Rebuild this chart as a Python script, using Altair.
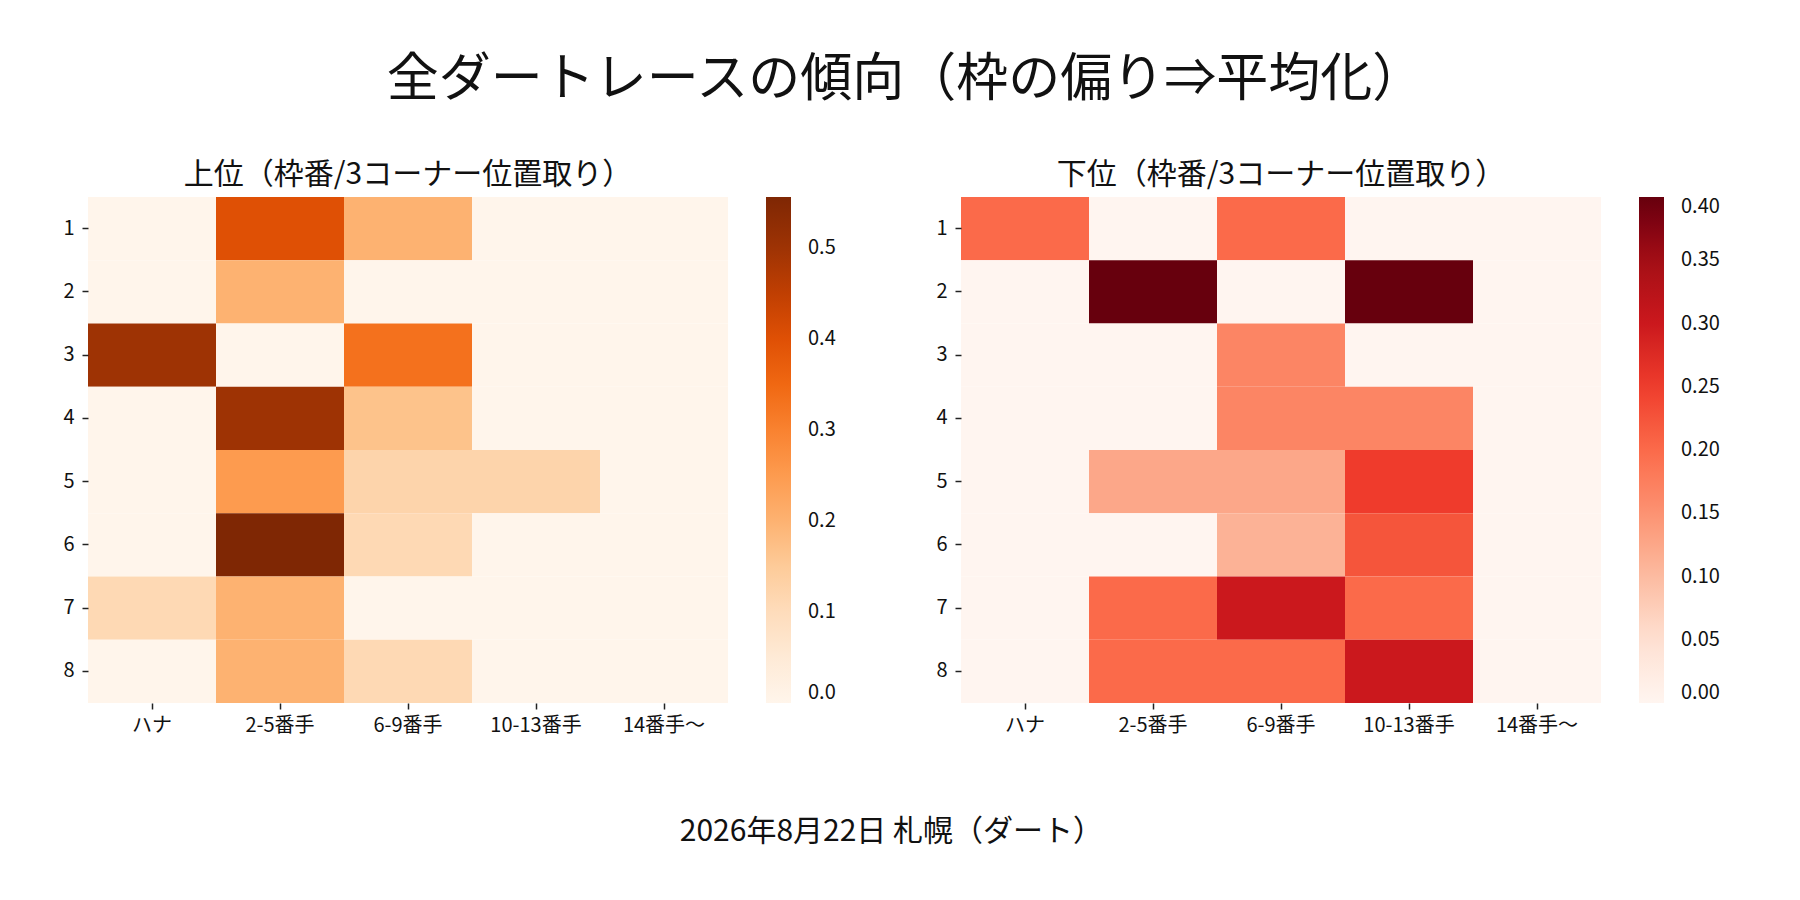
import altair as alt
import pandas as pd

FONT = "Noto Sans CJK JP"

positions = ["ハナ", "2-5番手", "6-9番手", "10-13番手", "14番手～"]
gates = ["1", "2", "3", "4", "5", "6", "7", "8"]

# 上位 (top finishers) share by gate x position
upper_rows = [
    [0.0, 0.40, 0.20, 0.0, 0.0],
    [0.0, 0.20, 0.0, 0.0, 0.0],
    [0.50, 0.0, 0.333, 0.0, 0.0],
    [0.0, 0.50, 0.167, 0.0, 0.0],
    [0.0, 0.25, 0.125, 0.125, 0.0],
    [0.0, 0.556, 0.111, 0.0, 0.0],
    [0.111, 0.20, 0.0, 0.0, 0.0],
    [0.0, 0.20, 0.111, 0.0, 0.0],
]
# 下位 (bottom finishers)
lower_rows = [
    [0.20, 0.0, 0.20, 0.0, 0.0],
    [0.0, 0.40, 0.0, 0.40, 0.0],
    [0.0, 0.0, 0.167, 0.0, 0.0],
    [0.0, 0.0, 0.167, 0.167, 0.0],
    [0.0, 0.125, 0.125, 0.25, 0.0],
    [0.0, 0.0, 0.111, 0.225, 0.0],
    [0.0, 0.20, 0.30, 0.20, 0.0],
    [0.0, 0.20, 0.20, 0.30, 0.0],
]

oranges = ["#fff5eb", "#fee6ce", "#fdd0a2", "#fdae6b", "#fd8d3c",
           "#f16913", "#d94801", "#a63603", "#7f2704"]
reds = ["#fff5f0", "#fee0d2", "#fcbba1", "#fc9272", "#fb6a4a",
        "#ef3b2c", "#cb181d", "#a50f15", "#67000d"]

upper_ticks = [0.0, 0.1, 0.2, 0.3, 0.4, 0.5]
lower_ticks = [0.0, 0.05, 0.10, 0.15, 0.20, 0.25, 0.30, 0.35, 0.40]

title_main = "全ダートレースの傾向（枠の偏り⇒平均化）"
title_upper = "上位（枠番/3コーナー位置取り）"
title_lower = "下位（枠番/3コーナー位置取り）"
caption = "2026年8月22日 札幌（ダート）"


def to_df(rows):
    recs = []
    for g, row in zip(gates, rows):
        for p, v in zip(positions, row):
            recs.append({"gate": g, "pos": p, "value": v})
    return pd.DataFrame(recs)


def heat(rows, colors, ticks, fmt, title, vmax):
    n = len(colors) - 1
    domain = [vmax * i / n for i in range(n + 1)]
    return alt.Chart(to_df(rows)).mark_rect().encode(
        x=alt.X("pos:N", sort=positions, title=None,
                axis=alt.Axis(labelAngle=0, domain=False, tickSize=6,
                              tickWidth=1.5, tickColor="#222",
                              labelPadding=6, labelFontSize=20,
                              labelFont=FONT, labelColor="#111")),
        y=alt.Y("gate:N", sort=gates, title=None,
                axis=alt.Axis(domain=False, tickSize=6, tickWidth=1.5,
                              tickColor="#222", labelPadding=8,
                              labelFontSize=20, labelFont=FONT,
                              labelColor="#111")),
        color=alt.Color("value:Q",
                        scale=alt.Scale(domain=domain, range=colors),
                        legend=alt.Legend(title=None, values=ticks,
                                          format=fmt, gradientLength=506,
                                          gradientThickness=25,
                                          labelFontSize=20, labelFont=FONT,
                                          labelColor="#111", labelOffset=17,
                                          labelBaseline="middle",
                                          offset=38, padding=0,
                                          labelOverlap=False)),
    ).properties(
        width=640, height=506,
        title=alt.Title(title, fontSize=30, font=FONT, fontWeight="normal",
                        color="#111", offset=7),
    )


left = heat(upper_rows, oranges, upper_ticks, ".1f", title_upper,
            max(max(r) for r in upper_rows))
right = heat(lower_rows, reds, lower_ticks, ".2f", title_lower,
             max(max(r) for r in lower_rows))

row = alt.hconcat(left, right, spacing=99).resolve_scale(
    color="independent").resolve_legend(color="independent").properties(
    title=alt.Title(title_main, fontSize=52, font=FONT, fontWeight="normal",
                    color="#111", anchor="middle", offset=53, dx=14))

chart = alt.vconcat(row).properties(
    title=alt.Title(caption, orient="bottom", fontSize=30, font=FONT,
                    fontWeight="normal", color="#111", anchor="middle",
                    offset=82),
    padding={"left": 54, "top": 46, "right": 20, "bottom": 10},
).configure_view(stroke=None)

chart.save("out.html", embed_options={"renderer": "svg", "actions": False})
